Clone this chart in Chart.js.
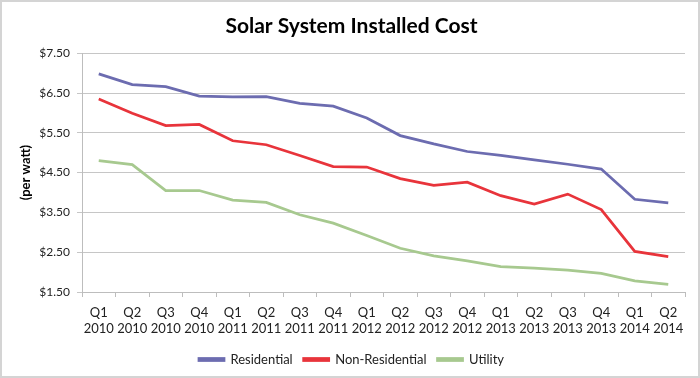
<!DOCTYPE html>
<html>
<head>
<meta charset="utf-8">
<script src="https://cdn.jsdelivr.net/npm/chart.js@4/dist/chart.umd.min.js"></script>
<style>
  html, body { margin: 0; padding: 0; background: #fff; }
  #wrap { width: 700px; height: 378px; position: relative; box-sizing: border-box; border: 2px solid #d4d4d4; }
  canvas { display: block; }
</style>
</head>
<body>
<div id="wrap"><canvas id="c" width="696" height="374"></canvas></div>
<script>
const quarters = ["Q1","Q2","Q3","Q4","Q1","Q2","Q3","Q4","Q1","Q2","Q3","Q4","Q1","Q2","Q3","Q4","Q1","Q2"];
const years = ["2010","2010","2010","2010","2011","2011","2011","2011","2012","2012","2012","2012","2013","2013","2013","2013","2014","2014"];
const residential = [6.98, 6.71, 6.66, 6.42, 6.40, 6.41, 6.24, 6.17, 5.87, 5.43, 5.22, 5.03, 4.93, 4.82, 4.71, 4.59, 3.83, 3.74];
const nonResidential = [6.35, 5.99, 5.68, 5.71, 5.30, 5.20, 4.93, 4.65, 4.64, 4.35, 4.18, 4.26, 3.92, 3.71, 3.96, 3.57, 2.52, 2.39];
const utility = [4.80, 4.70, 4.05, 4.05, 3.81, 3.75, 3.44, 3.23, 2.92, 2.60, 2.41, 2.28, 2.14, 2.10, 2.05, 1.97, 1.78, 1.69];
const yTicks = [1.5, 2.5, 3.5, 4.5, 5.5, 6.5, 7.5];

const labels = quarters.map((q, i) => [q, years[i]]);
const FONT = "Lato, 'Open Sans', sans-serif";

new Chart(document.getElementById('c'), {
  type: 'line',
  data: {
    labels: labels,
    datasets: [
      { label: 'Residential', data: residential, borderColor: '#6c6cb0', backgroundColor: '#6c6cb0' },
      { label: 'Non-Residential', data: nonResidential, borderColor: '#e8343b', backgroundColor: '#e8343b' },
      { label: 'Utility', data: utility, borderColor: '#a7c98f', backgroundColor: '#a7c98f' }
    ]
  },
  options: {
    responsive: false,
    animation: false,
    layout: { padding: { left: 16, right: 13, top: 0, bottom: 0 } },
    elements: {
      line: { borderWidth: 2.75, tension: 0 },
      point: { radius: 0, hoverRadius: 0 }
    },
    plugins: {
      title: {
        display: true,
        text: 'Solar System Installed Cost',
        color: '#000',
        font: { family: FONT, size: 21, weight: 'bold' },
        padding: { top: 12, bottom: 14 }
      },
      legend: {
        position: 'bottom',
        labels: {
          color: '#222',
          font: { family: FONT, size: 13 },
          boxWidth: 25,
          boxHeight: 2,
          padding: 11
        }
      },
      tooltip: { enabled: false }
    },
    scales: {
      x: {
        offset: true,
        grid: { offset: true, drawOnChartArea: false, drawTicks: true, tickLength: 5, color: '#bdbdbd' },
        border: { display: true, color: '#bdbdbd' },
        ticks: { color: '#222', font: { family: FONT, size: 13 }, maxRotation: 0, autoSkip: false, padding: 8 },
        afterFit: s => { s.height = 50; }
      },
      y: {
        min: 1.5,
        max: 7.5,
        afterBuildTicks: s => { s.ticks = yTicks.map(v => ({ value: v })); },
        grid: { color: '#c6c6c6', tickLength: 5, lineWidth: 1 },
        border: { display: true, color: '#bdbdbd' },
        ticks: {
          color: '#222',
          font: { family: FONT, size: 12 },
          padding: 7,
          callback: v => '$' + Number(v).toFixed(2)
        },
        title: {
          display: true,
          text: '(per watt)',
          color: '#000',
          font: { family: FONT, size: 13, weight: 'bold' },
          padding: { top: 0, bottom: 0 }
        },
        afterFit: s => { s.width = 64; }
      }
    }
  }
});
</script>
</body>
</html>
